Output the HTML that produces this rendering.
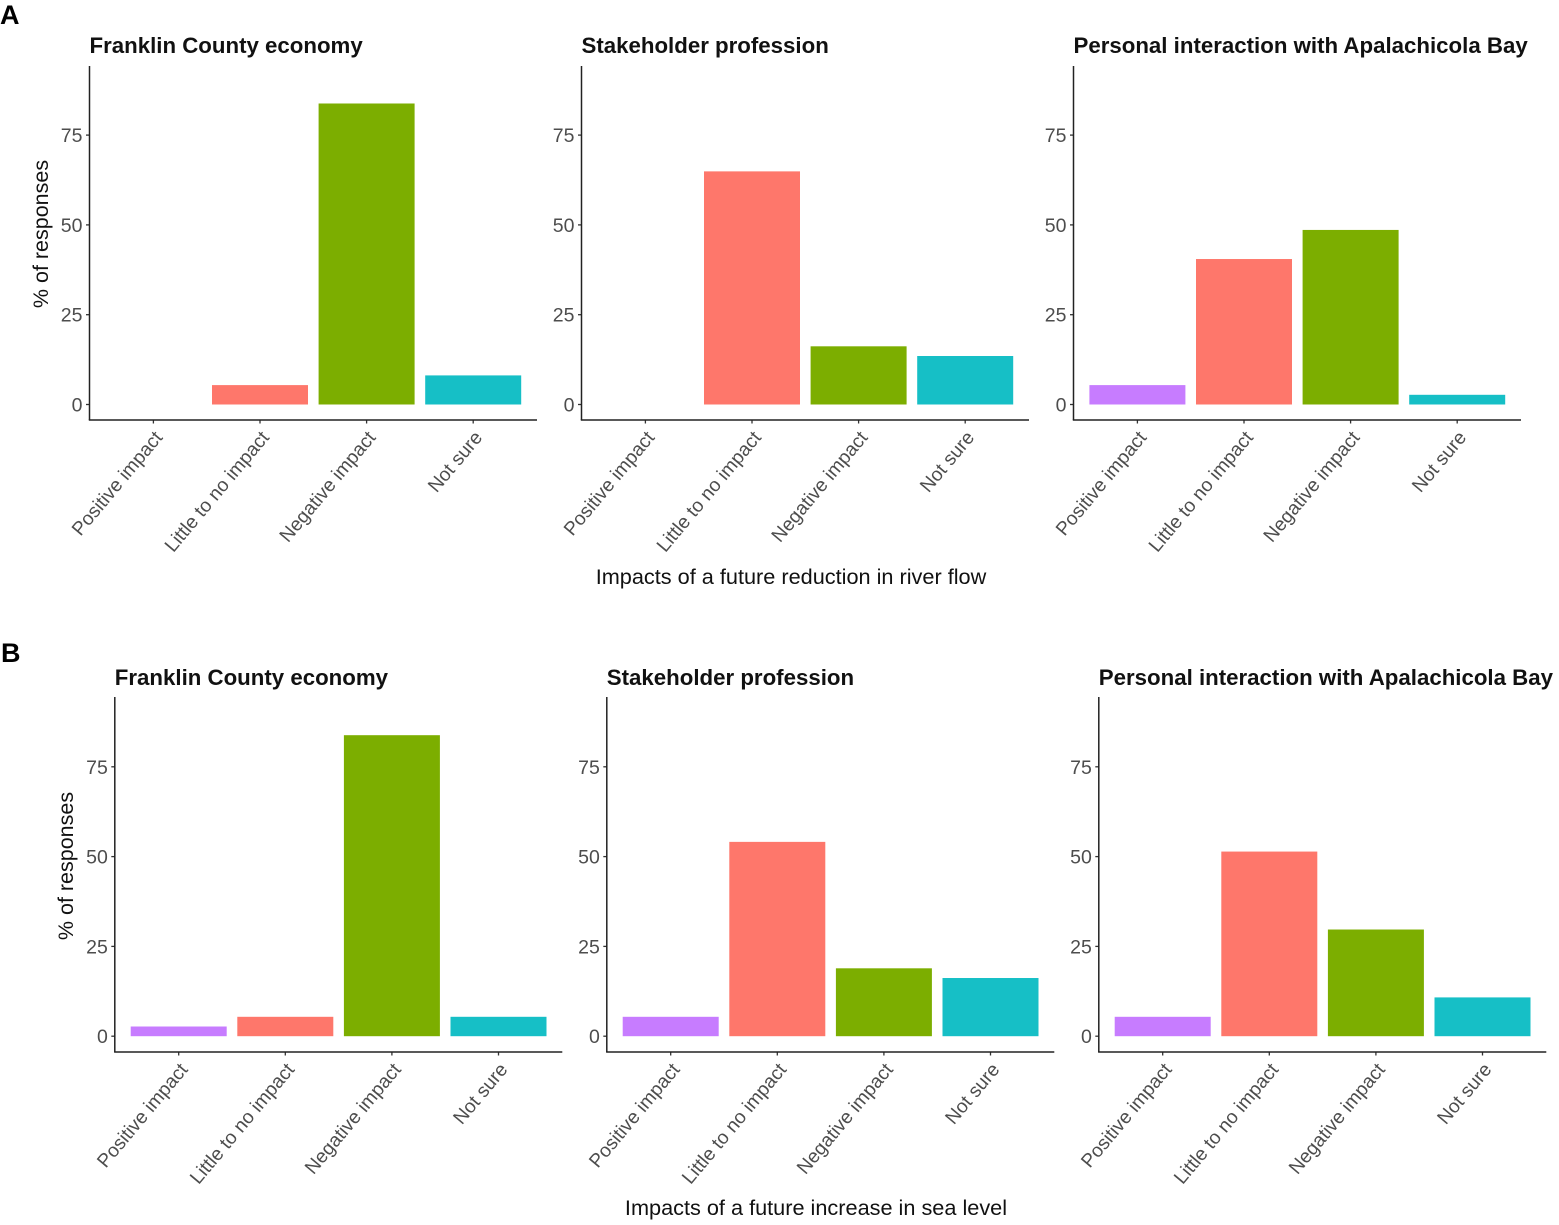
<!DOCTYPE html>
<html>
<head>
<meta charset="utf-8">
<style>
html,body{margin:0;padding:0;background:#fff}
svg{display:block;filter:blur(0.35px)}
text{font-family:"Liberation Sans",Arial,sans-serif}
</style>
</head>
<body>
<svg id="chart" width="1559" height="1225" viewBox="0 0 1559 1225" xmlns="http://www.w3.org/2000/svg"></svg>
<script>
const categories = ['Positive impact', 'Little to no impact', 'Negative impact', 'Not sure'];
const colors = ['#C77CFF', '#FE776B', '#7CAE00', '#16BFC6'];
const yTicks = [0, 25, 50, 75];
const facetTitles = ['Franklin County economy', 'Stakeholder profession', 'Personal interaction with Apalachicola Bay'];
const panelLetters = ['A', 'B'];
const xAxisTitles = ['Impacts of a future reduction in river flow', 'Impacts of a future increase in sea level'];
const yAxisTitle = '% of responses';
const valuesA1 = [0, 5.4, 83.8, 8.1];
const valuesA2 = [0, 64.9, 16.2, 13.5];
const valuesA3 = [5.4, 40.5, 48.6, 2.7];
const valuesB1 = [2.7, 5.4, 83.8, 5.4];
const valuesB2 = [5.4, 54.1, 18.9, 16.2];
const valuesB3 = [5.4, 51.4, 29.7, 10.8];
const rows = [[valuesA1, valuesA2, valuesA3], [valuesB1, valuesB2, valuesB3]];

const svg = document.getElementById('chart');
const NS = 'http://www.w3.org/2000/svg';
function add(tag, attrs, text, parent) {
  const el = document.createElementNS(NS, tag);
  for (const k in attrs) el.setAttribute(k, attrs[k]);
  if (text !== undefined) el.textContent = text;
  (parent || svg).appendChild(el);
  return el;
}
const rowLayout = [
  { dx: 0, zeroY: 404.5, topY: 66, axisY: 420, letterX: 0, letterY: 24, titleY: 53, xTitleY: 584, xTitleX: 791, yTitleX: 48, yTitleY: 234 },
  { dx: 25.3, zeroY: 1036.2, topY: 697, axisY: 1052, letterX: 1, letterY: 662, titleY: 685, xTitleY: 1215, xTitleX: 816, yTitleX: 73, yTitleY: 866 }
];
const panelLeft = [89.5, 581.5, 1073.5];
const panelW = 447.5;
function yScale(v, L) { return L.zeroY - v * 3.592; }
function xBand(i, left) { return left + 63.9 + 106.6 * i; }

rows.forEach(function (row, r) {
  const L = rowLayout[r];
  const letter = add('text', { x: L.letterX, y: L.letterY, 'font-size': 27, 'font-weight': 700, fill: '#000' }, panelLetters[r]);
  
  

  const yt = add('text', { x: L.yTitleX, y: L.yTitleY, 'font-size': 21.5, fill: '#111', 'text-anchor': 'middle', transform: 'rotate(-90 ' + L.yTitleX + ' ' + L.yTitleY + ')' }, yAxisTitle);
  
  

  const xt = add('text', { x: L.xTitleX, y: L.xTitleY, 'font-size': 21.7, fill: '#111', 'text-anchor': 'middle' }, xAxisTitles[r]);
  
  

  row.forEach(function (vals, c) {
    const left = panelLeft[c] + L.dx;
    const g = add('g', {});
    
    

    const title = add('text', { x: left, y: L.titleY, 'font-size': 22.25, 'font-weight': 700, fill: '#111' }, facetTitles[c], g);
    
    

    vals.forEach(function (v, i) {
      const cx = xBand(i, left);
      const y = yScale(v, L);
      const bar = add('rect', { x: cx - 48, y: y, width: 96, height: Math.max(0, L.zeroY - y), fill: colors[i] }, undefined, g);
      
      

      add('line', { x1: cx, x2: cx, y1: L.axisY, y2: L.axisY + 3.5, stroke: '#333', 'stroke-width': 1.3 }, undefined, g);
      const lx = cx + 10, ly = L.axisY + 18;
      const lab = add('text', { x: lx, y: ly, 'font-size': 19.2, fill: '#4d4d4d', 'text-anchor': 'end', transform: 'rotate(-50 ' + lx + ' ' + ly + ')' }, categories[i], g);
      
      
    });

    yTicks.forEach(function (t) {
      const y = yScale(t, L);
      add('line', { x1: left - 3.5, x2: left, y1: y, y2: y, stroke: '#333', 'stroke-width': 1.3 }, undefined, g);
      const tl = add('text', { x: left - 7, y: y + 7, 'font-size': 19.5, fill: '#4d4d4d', 'text-anchor': 'end' }, String(t), g);
      
      
    });

    const ya = add('line', { x1: left, x2: left, y1: L.topY, y2: L.axisY, stroke: '#222', 'stroke-width': 1.5 }, undefined, g);
    
    
    const xa = add('line', { x1: left - 0.7, x2: left + panelW, y1: L.axisY, y2: L.axisY, stroke: '#222', 'stroke-width': 1.5 }, undefined, g);
    
    
  });
});
</script>
</body>
</html>
